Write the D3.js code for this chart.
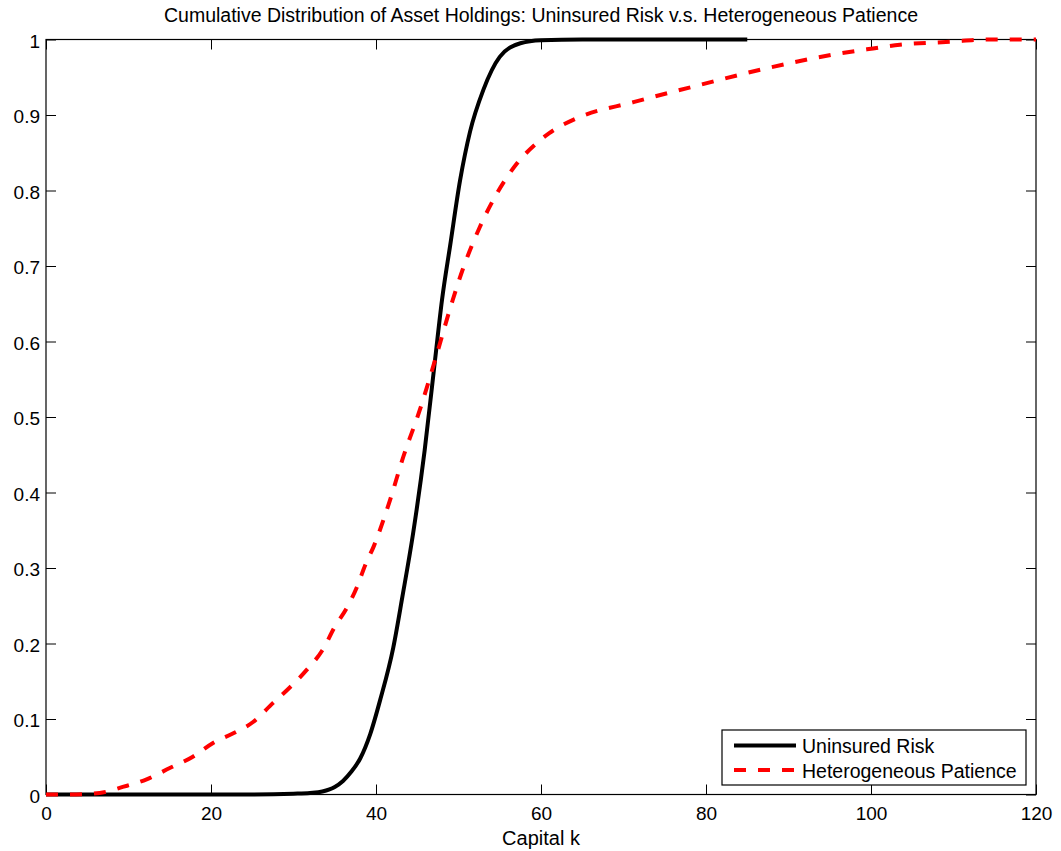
<!DOCTYPE html>
<html>
<head>
<meta charset="utf-8">
<script src="https://cdn.jsdelivr.net/npm/d3@7"></script>
<style>
  html, body { margin: 0; padding: 0; background: #fff; }
  svg { display: block; font-family: "Liberation Sans", Arial, Helvetica, sans-serif; }
</style>
</head>
<body>
<svg id="chart" width="1061" height="851"></svg>
<script>
// Capital grid and CDF values for the uninsured-risk economy
const riskK = [0, 25, 30, 32, 33.5, 35, 36, 37, 38.1, 39.3, 40.5, 42.1, 43.2, 44.5, 45.9, 47.15, 48.0, 49.0, 50.2, 51.4, 53.0, 55.0, 57.5, 60, 65, 85];
const riskCdf = [0, 0, 0.001, 0.002, 0.004, 0.01, 0.018, 0.03, 0.048, 0.08, 0.125, 0.195, 0.262, 0.346, 0.456, 0.575, 0.655, 0.728, 0.814, 0.878, 0.933, 0.977, 0.995, 0.999, 1, 1];

// Capital grid and CDF values for the heterogeneous-patience economy
const patienceK = [0, 3, 6.5, 9.3, 12.2, 15, 17.8, 20.2, 22.7, 25.1, 27.5, 29.2, 31.6, 33.5, 35, 36.5, 37.7, 38.7, 39.7, 41.7, 43.3, 45.3, 47.15, 49.3, 50.5, 52.6, 54.7, 57.1, 59.5, 61, 64.4, 71.2, 79.3, 87.4, 95.4, 99.5, 103.5, 109.6, 114, 120];
const patienceCdf = [0, 0, 0.002, 0.01, 0.02, 0.035, 0.05, 0.068, 0.081, 0.096, 0.121, 0.138, 0.165, 0.191, 0.222, 0.248, 0.275, 0.304, 0.328, 0.39, 0.447, 0.509, 0.575, 0.655, 0.695, 0.752, 0.797, 0.836, 0.863, 0.876, 0.896, 0.917, 0.94, 0.962, 0.98, 0.987, 0.993, 0.997, 1, 1];

const xTicks = [0, 20, 40, 60, 80, 100, 120];
const yTicks = [0, 0.1, 0.2, 0.3, 0.4, 0.5, 0.6, 0.7, 0.8, 0.9, 1];
const seriesNames = ["Uninsured Risk", "Heterogeneous Patience"];
const titleText = "Cumulative Distribution of Asset Holdings: Uninsured Risk v.s. Heterogeneous Patience";
const xLabelText = "Capital k";

const margin = { left: 46, top: 39.5, right: 25, bottom: 56.5 };
const W = 1061, H = 851;
const pw = W - margin.left - margin.right;   // 990
const ph = H - margin.top - margin.bottom;   // 755

const svg = d3.select("#chart");
const x = d3.scaleLinear().domain([0, 120]).range([margin.left, margin.left + pw]);
const y = d3.scaleLinear().domain([0, 1]).range([margin.top + ph, margin.top]);

const tickLen = 10;
const axisG = svg.append("g");

// Bottom axis: ticks point inward, labels below
const bottom = axisG.append("g")
  .attr("transform", `translate(0,${margin.top + ph})`)
  .call(d3.axisBottom(x).tickValues(xTicks).tickSizeInner(-tickLen).tickSizeOuter(0).tickPadding(0).tickFormat(d3.format("d")));
bottom.selectAll("text").attr("y", 25).attr("dy", null).style("font-size", "19px").attr("fill", "#000");

// Top axis: inward ticks only
axisG.append("g")
  .attr("transform", `translate(0,${margin.top})`)
  .call(d3.axisTop(x).tickValues(xTicks).tickSizeInner(-tickLen).tickSizeOuter(0).tickFormat(""));

// Left axis: ticks point inward, labels to the left
const left = axisG.append("g")
  .attr("transform", `translate(${margin.left},0)`)
  .call(d3.axisLeft(y).tickValues(yTicks).tickSizeInner(-tickLen).tickSizeOuter(0).tickPadding(0).tickFormat(d3.format("~g")));
left.selectAll("text").attr("x", -6).attr("dy", "7.5px").style("font-size", "19px").attr("fill", "#000");

// Right axis: inward ticks only
axisG.append("g")
  .attr("transform", `translate(${margin.left + pw},0)`)
  .call(d3.axisRight(y).tickValues(yTicks).tickSizeInner(-tickLen).tickSizeOuter(0).tickFormat(""));

axisG.selectAll(".domain").remove();
axisG.selectAll(".tick line").attr("stroke", "#000").attr("stroke-width", 1);

// Plot box
svg.append("rect")
  .attr("x", margin.left).attr("y", margin.top)
  .attr("width", pw).attr("height", ph)
  .attr("fill", "none").attr("stroke", "#000").attr("stroke-width", 1.2);

// Curves
const line = d3.line().x(d => x(d[0])).y(d => y(d[1])).curve(d3.curveMonotoneX);
const riskData = riskK.map((k, i) => [k, riskCdf[i]]);
const patienceData = patienceK.map((k, i) => [k, patienceCdf[i]]);

svg.append("path").datum(riskData)
  .attr("d", line).attr("fill", "none")
  .attr("stroke", "#000").attr("stroke-width", 4);

svg.append("path").datum(patienceData)
  .attr("d", line).attr("fill", "none")
  .attr("stroke", "#ff0000").attr("stroke-width", 4)
  .attr("stroke-dasharray", "12,12");

// Title and axis label
svg.append("text")
  .attr("x", margin.left + pw / 2).attr("y", 22)
  .attr("text-anchor", "middle").style("font-size", "19.5px")
  .text(titleText);

svg.append("text")
  .attr("x", margin.left + pw / 2).attr("y", 845)
  .attr("text-anchor", "middle").style("font-size", "20px")
  .text(xLabelText);

// Legend
const lg = svg.append("g");
lg.append("rect")
  .attr("x", 722).attr("y", 730).attr("width", 304).attr("height", 55)
  .attr("fill", "#fff").attr("stroke", "#000").attr("stroke-width", 1.2);
const legendStyles = [
  { color: "#000", dash: null },
  { color: "#ff0000", dash: "12,12" }
];
seriesNames.forEach((name, i) => {
  const cy = 745.5 + i * 24.5;
  lg.append("line")
    .attr("x1", 734).attr("x2", 796).attr("y1", cy).attr("y2", cy)
    .attr("stroke", legendStyles[i].color).attr("stroke-width", 4)
    .attr("stroke-dasharray", legendStyles[i].dash);
  lg.append("text")
    .attr("x", 802).attr("y", cy + 7.5)
    .style("font-size", "19.5px").attr("fill", "#000")
    .text(name);
});
</script>
</body>
</html>
